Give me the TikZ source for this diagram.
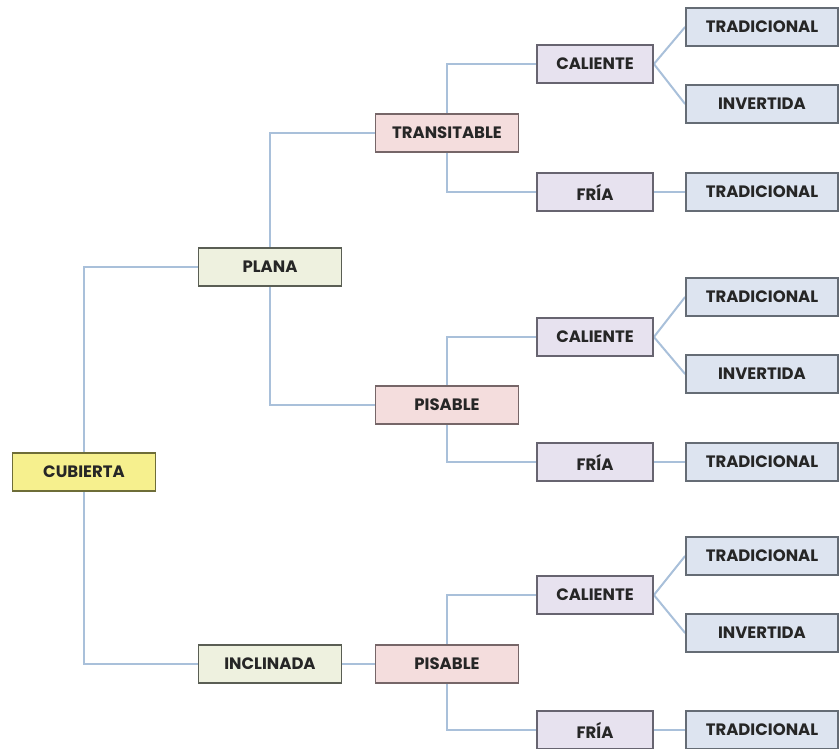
\documentclass[tikz,border=0pt]{standalone}
\usepackage{fontspec}
\setmainfont{Poppins}
\usetikzlibrary{backgrounds}
\definecolor{linec}{HTML}{A9C0DA}
\definecolor{textc}{HTML}{262626}
\definecolor{cubfill}{HTML}{F6F08E}
\definecolor{cubdraw}{HTML}{6E6D38}
\definecolor{plafill}{HTML}{EEF1DF}
\definecolor{pladraw}{HTML}{5A5E54}
\definecolor{trafill}{HTML}{F4DDDD}
\definecolor{tradraw}{HTML}{766668}
\definecolor{calfill}{HTML}{E7E2EF}
\definecolor{caldraw}{HTML}{676470}
\definecolor{tdfill}{HTML}{DDE4F0}
\definecolor{tddraw}{HTML}{656C75}
\begin{document}
\begin{tikzpicture}[x=1pt,y=-1pt,
  box/.style={line width=1.8pt, minimum height=38pt, inner sep=0pt,
    font=\fontsize{16.5}{17}\selectfont\bfseries, text=textc},
  lvlA/.style={box, fill=cubfill, draw=cubdraw, minimum width=143pt},
  lvlB/.style={box, fill=plafill, draw=pladraw, minimum width=143pt},
  lvlC/.style={box, fill=trafill, draw=tradraw, minimum width=143pt},
  lvlD/.style={box, fill=calfill, draw=caldraw, minimum width=116pt},
  lvlE/.style={box, fill=tdfill, draw=tddraw, minimum width=152pt},
  conn/.style={draw=linec, line width=2pt}]
\useasboundingbox (0,0) rectangle (840,749);
% level 1
\node[lvlA] (cub) at (84,472) {CUBIERTA};
% level 2
\node[lvlB] (pla) at (270,267) {PLANA};
\node[lvlB] (inc) at (270,664) {INCLINADA};
% level 3
\node[lvlC] (tra) at (447,133) {TRANSITABLE};
\node[lvlC] (pis1) at (447,405) {PISABLE};
\node[lvlC] (pis2) at (447,664) {PISABLE};
% level 4
\node[lvlD] (cal1) at (595,64) {CALIENTE};
\node[lvlD] (fri1) at (595,192) {FRÍA};
\node[lvlD] (cal2) at (595,337) {CALIENTE};
\node[lvlD] (fri2) at (595,462) {FRÍA};
\node[lvlD] (cal3) at (595,595) {CALIENTE};
\node[lvlD] (fri3) at (595,730) {FRÍA};
% level 5
\node[lvlE] (td1) at (762,27) {TRADICIONAL};
\node[lvlE] (in1) at (762,104) {INVERTIDA};
\node[lvlE] (td2) at (762,192) {TRADICIONAL};
\node[lvlE] (td3) at (762,297) {TRADICIONAL};
\node[lvlE] (in3) at (762,374) {INVERTIDA};
\node[lvlE] (td4) at (762,462) {TRADICIONAL};
\node[lvlE] (td5) at (762,556) {TRADICIONAL};
\node[lvlE] (in5) at (762,633) {INVERTIDA};
\node[lvlE] (td6) at (762,730) {TRADICIONAL};
\begin{pgfonlayer}{background}
\path[conn] (cub.center) |- (pla.west);
\path[conn] (cub.center) |- (inc.west);
\path[conn] (pla.center) |- (tra.west);
\path[conn] (pla.center) |- (pis1.west);
\path[conn] (inc.east) -- (pis2.west);
\path[conn] (tra.center) |- (cal1.west);
\path[conn] (tra.center) |- (fri1.west);
\path[conn] (pis1.center) |- (cal2.west);
\path[conn] (pis1.center) |- (fri2.west);
\path[conn] (pis2.center) |- (cal3.west);
\path[conn] (pis2.center) |- (fri3.west);
\path[conn] (cal1.east) -- (td1.west);
\path[conn] (cal1.east) -- (in1.west);
\path[conn] (cal2.east) -- (td3.west);
\path[conn] (cal2.east) -- (in3.west);
\path[conn] (cal3.east) -- (td5.west);
\path[conn] (cal3.east) -- (in5.west);
\path[conn] (fri1.east) -- (td2.west);
\path[conn] (fri2.east) -- (td4.west);
\path[conn] (fri3.east) -- (td6.west);
\end{pgfonlayer}
\end{tikzpicture}
\end{document}
